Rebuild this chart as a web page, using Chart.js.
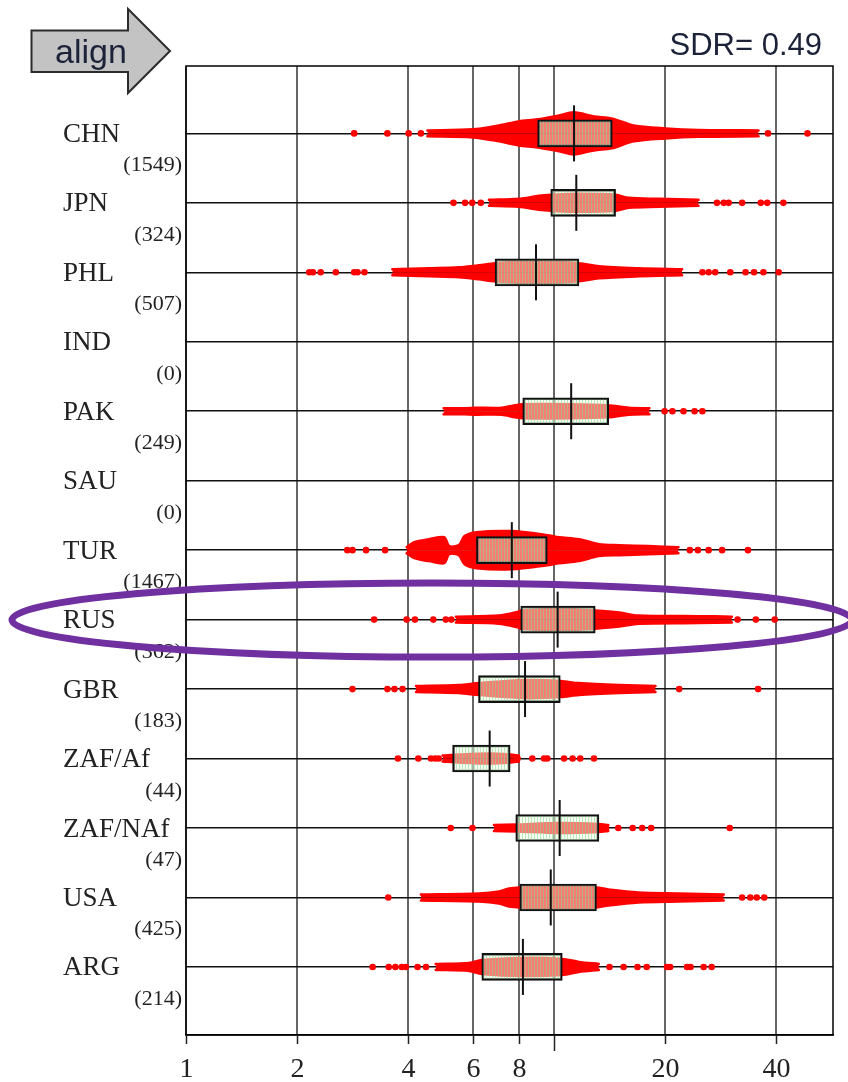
<!DOCTYPE html>
<html>
<head>
<meta charset="utf-8">
<script src="https://cdn.jsdelivr.net/npm/chart.js@4.4.1/dist/chart.umd.min.js"></script>
<style>
  html, body { margin: 0; padding: 0; background: #fff; overflow: hidden; }
  #wrap { position: relative; width: 848px; height: 1082px; }
  #sdrChart { display: block; }
</style>
</head>
<body>
<div id="wrap"><canvas id="sdrChart"></canvas></div>
<script>
// rows, top to bottom
const countries = ["CHN", "JPN", "PHL", "IND", "PAK", "SAU", "TUR", "RUS", "GBR", "ZAF/Af", "ZAF/NAf", "USA", "ARG"];
const counts = [1549, 324, 507, 0, 249, 0, 1467, 362, 183, 44, 47, 425, 214];

// quartiles and medians (null = no samples)
const q1 = [9.0, 9.77, 6.9, null, 8.2, null, 6.14, 8.1, 6.22, 5.29, 7.85, 8.05, 6.35];
const medians = [11.3, 11.46, 8.91, null, 11.1, null, 7.66, 10.2, 8.32, 6.67, 10.33, 9.77, 8.21];
const q3 = [14.35, 14.65, 11.65, null, 14.03, null, 9.56, 12.9, 10.37, 7.58, 13.2, 13.0, 10.5];

// isolated samples in the tails
const outliers = [
  [2.86, 3.52, 4.02, 4.34, 37.97, 48.6],
  [5.32, 5.72, 5.98, 6.31, 27.6, 28.8, 29.7, 32.3, 36.3, 37.8, 41.8],
  [2.16, 2.21, 2.32, 2.55, 2.86, 2.92, 3.05, 25.2, 26.2, 27.3, 30.0, 33.0, 34.8, 36.9, 40.6],
  [],
  [19.9, 20.9, 22.4, 24.0, 25.2],
  [],
  [2.74, 2.83, 3.08, 3.47, 23.3, 24.5, 26.2, 28.5, 33.5],
  [3.24, 3.97, 4.18, 4.69, 5.07, 5.25, 31.4, 35.2, 39.6],
  [2.83, 3.52, 3.68, 3.87, 21.8, 35.7],
  [3.76, 4.27, 4.62, 4.75, 4.85, 7.94, 8.71, 9.37, 9.56, 10.62, 11.2, 11.75, 12.8],
  [5.23, 5.99, 13.8, 14.9, 16.3, 17.3, 18.3, 29.9],
  [3.54, 32.3, 34.0, 35.4, 37.1],
  [3.21, 3.55, 3.7, 3.85, 3.95, 4.25, 4.48, 14.1, 15.4, 16.8, 17.8, 20.2, 20.6, 22.9, 23.4, 25.4, 26.7]
];

// swarm density: knot positions and half-spread (row units)
const densityX = [
  [4.52, 6.0, 7.07, 8.0, 9.0, 10.3, 11.3, 12.8, 14.3, 16.4, 20, 24.6, 35.8],
  [6.64, 8.0, 9.08, 9.8, 11.65, 14.65, 15.9, 19.2, 24.6],
  [3.63, 4.57, 5.51, 6.24, 6.9, 8.9, 11.65, 13.2, 16.9, 22.2],
  [],
  [5.0, 5.7, 6.1, 7.2, 7.8, 8.2, 11.0, 14.0, 15.9, 18.1],
  [],
  [3.97, 4.16, 4.57, 5.02, 5.18, 5.5, 5.7, 6.14, 7.66, 9.56, 10.3, 11.65, 13.2, 15.0, 18.0, 21.7],
  [5.4, 7.07, 8.0, 8.1, 10.2, 12.9, 15.0, 16.9, 24.6, 30.3],
  [4.21, 5.5, 6.24, 8.3, 10.4, 11.65, 15.0, 18.8],
  [4.97, 5.5, 6.67, 7.58, 8.0],
  [6.85, 7.85, 10.3, 13.2, 14.0],
  [4.34, 6.24, 7.07, 7.53, 8.05, 10.3, 13.0, 14.0, 16.9, 21.7, 28.8],
  [4.76, 5.87, 6.35, 8.2, 10.5, 11.65, 13.2]
];
const densitySpread = [
  [.043, .058, .115, .173, .202, .259, .303, .245, .216, .115, .072, .050, .043],
  [.043, .058, .101, .115, .130, .115, .072, .058, .043],
  [.043, .058, .072, .101, .130, .158, .130, .086, .058, .043],
  [],
  [.043, .043, .050, .050, .086, .101, .101, .086, .050, .043],
  [],
  [.043, .115, .158, .187, .058, .072, .202, .259, .274, .216, .187, .158, .086, .072, .058, .043],
  [.043, .058, .115, .130, .158, .130, .101, .058, .050, .043],
  [.043, .058, .086, .130, .115, .086, .058, .043],
  [.043, .058, .072, .058, .043],
  [.043, .050, .072, .058, .043],
  [.043, .058, .086, .130, .144, .158, .144, .115, .072, .058, .043],
  [.043, .058, .101, .130, .115, .072, .043]
];

const xTicks = [1, 2, 4, 6, 8, 10, 20, 40];
const xTickLabels = ["1", "2", "4", "6", "8", "", "20", "40"];
const sdrText = "SDR= 0.49";

// striped translucent fill for the boxes
function boxPattern() {
  const c = document.createElement('canvas');
  c.width = 3; c.height = 4;
  const g = c.getContext('2d');
  g.fillStyle = 'rgba(236,250,230,0.5)';
  g.fillRect(0, 0, 3, 4);
  g.fillStyle = 'rgba(140,215,140,0.55)';
  g.fillRect(0, 0, 1, 4);
  return g.createPattern(c, 'repeat');
}

const datasets = [];

countries.forEach((c, i) => {
  if (!densityX[i].length) return;
  const upper = densityX[i].map((x, k) => ({ x: x, y: i - densitySpread[i][k] }));
  const lower = densityX[i].map((x, k) => ({ x: x, y: i + densitySpread[i][k] }));
  [upper, lower].forEach(pts => {
    datasets.push({
      type: 'line',
      data: pts,
      borderColor: '#ff0000',
      backgroundColor: '#ff0000',
      borderWidth: 2.5,
      borderJoinStyle: 'round',
      borderCapStyle: 'round',
      pointRadius: 0,
      tension: 0.3,
      fill: { value: i },
      order: 3,
    });
  });
});

datasets.push({
  type: 'scatter',
  data: outliers.flatMap((row, i) => row.map(v => ({ x: v, y: i }))),
  backgroundColor: '#ff0000',
  borderWidth: 0,
  pointRadius: 3.3,
  order: 2,
});

datasets.push({
  type: 'bar',
  indexAxis: 'y',
  data: countries.map((c, i) => q1[i] == null ? null : { x: [q1[i], q3[i]], y: i }).filter(d => d),
  backgroundColor: boxPattern(),
  borderColor: '#111',
  borderWidth: 2,
  borderSkipped: false,
  barThickness: 27,
  grouped: false,
  order: 1,
});

datasets.push({
  type: 'scatter',
  data: countries.map((c, i) => medians[i] == null ? null : { x: medians[i], y: i }).filter(d => d),
  pointStyle: 'line',
  pointRadius: 28,
  pointRotation: 90,
  borderColor: '#111',
  pointBorderWidth: 2,
  order: 0,
});

const decorations = {
  id: 'decorations',
  afterDraw(chart) {
    const ctx = chart.ctx;
    const a = chart.chartArea;
    const xs = chart.scales.x;
    const ys = chart.scales.y;
    ctx.save();

    // frame
    ctx.strokeStyle = '#000';
    ctx.lineWidth = 1.5;
    ctx.strokeRect(a.left, a.top, a.right - a.left, a.bottom - a.top);

    // tick marks and labels below the axis
    ctx.strokeStyle = '#222';
    ctx.lineWidth = 1.5;
    ctx.fillStyle = '#222';
    ctx.font = '28px "Liberation Serif"';
    ctx.textAlign = 'center';
    ctx.textBaseline = 'alphabetic';
    xTicks.forEach((v, k) => {
      const px = Math.round(xs.getPixelForValue(v)) + 0.5;
      ctx.beginPath();
      ctx.moveTo(px, a.bottom);
      ctx.lineTo(px, a.bottom + (v === 10 ? 16 : 9));
      ctx.stroke();
      ctx.fillText(xTickLabels[k], px, a.bottom + 42);
    });

    // row labels
    countries.forEach((name, i) => {
      const y = ys.getPixelForValue(i);
      ctx.font = '27px "Liberation Serif"';
      ctx.textAlign = 'left';
      ctx.fillText(name, 63, y + 8.5);
      ctx.font = '22px "Liberation Serif"';
      ctx.textAlign = 'right';
      ctx.fillText('(' + counts[i] + ')', 182, y + 38);
    });

    // "align" arrow
    ctx.beginPath();
    ctx.moveTo(31.5, 30.5);
    ctx.lineTo(128, 30.5);
    ctx.lineTo(128, 9);
    ctx.lineTo(170, 51);
    ctx.lineTo(128, 93);
    ctx.lineTo(128, 72);
    ctx.lineTo(31.5, 72);
    ctx.closePath();
    ctx.fillStyle = '#c3c3c3';
    ctx.fill();
    ctx.strokeStyle = '#2b2b2b';
    ctx.lineWidth = 2;
    ctx.stroke();
    ctx.fillStyle = '#1c2238';
    ctx.font = '34px "Liberation Sans"';
    ctx.textAlign = 'center';
    ctx.fillText('align', 91, 63);

    ctx.textAlign = 'right';
    ctx.font = '31px "Liberation Sans"';
    ctx.fillText(sdrText, 822, 55);

    // highlight ring
    ctx.beginPath();
    ctx.ellipse(432, 620, 420, 37, 0, 0, Math.PI * 2);
    ctx.strokeStyle = '#7030a0';
    ctx.lineWidth = 7;
    ctx.stroke();

    ctx.restore();
  }
};

new Chart(document.getElementById('sdrChart'), {
  type: 'scatter',
  data: { datasets: datasets },
  options: {
    responsive: true,
    maintainAspectRatio: false,
    animation: false,
    layout: { autoPadding: false, padding: { left: 186, right: 15, top: 66, bottom: 0 } },
    plugins: {
      legend: { display: false },
      tooltip: { enabled: false },
    },
    scales: {
      x: {
        type: 'logarithmic',
        position: 'bottom',
        min: 1,
        max: 57,
        z: 1,
        afterBuildTicks: s => { s.ticks = xTicks.map(v => ({ value: v })); },
        afterFit: s => { s.height = 47; },
        ticks: { display: false },
        grid: { color: '#666', lineWidth: 2, drawTicks: false },
        border: { display: true, color: '#000', width: 1.5 },
      },
      y: {
        type: 'linear',
        min: -0.97,
        max: 12.98,
        reverse: true,
        offset: false,
        afterBuildTicks: s => { s.ticks = countries.map((c, i) => ({ value: i })); },
        afterFit: s => { s.width = 0; },
        ticks: { display: false },
        grid: { color: '#111', lineWidth: 1.5, drawTicks: false, offset: false },
        border: { display: false },
      }
    }
  },
  plugins: [decorations]
});
</script>
</body>
</html>
